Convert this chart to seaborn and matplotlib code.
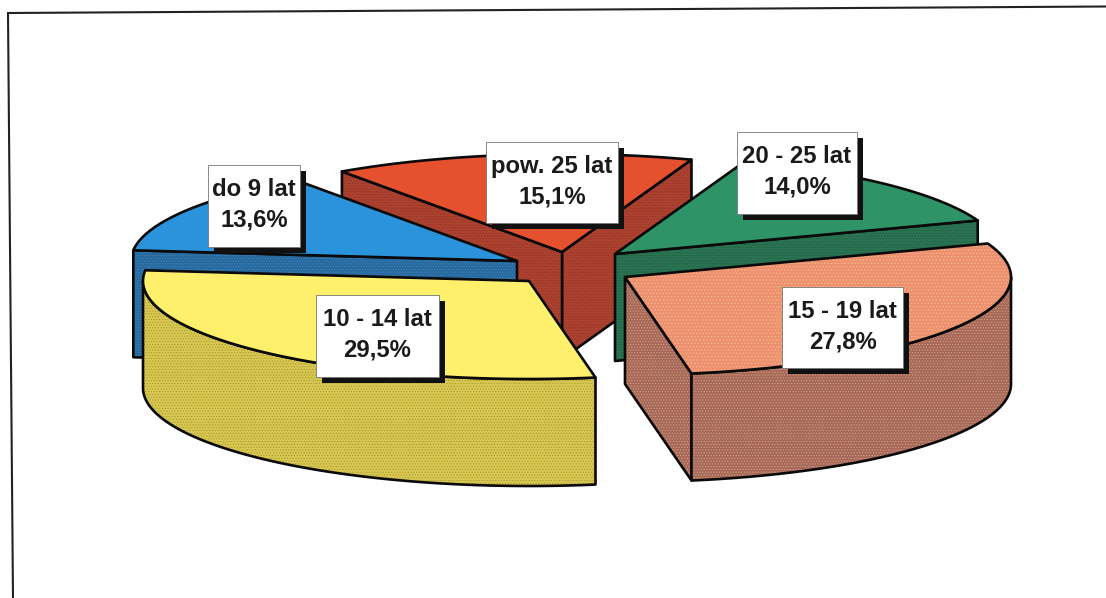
import numpy as np
import matplotlib
matplotlib.use("Agg")
import matplotlib.pyplot as plt
from matplotlib.patches import Polygon, Rectangle
import seaborn as sns

# slices in drawing order round the pie, anticlockwise from the right
categories = ["20 - 25 lat", "pow. 25 lat", "do 9 lat", "10 - 14 lat", "15 - 19 lat"]
shares = [14.0, 15.1, 13.6, 29.5, 27.8]

top_colors = ["#2E9468", "#E5512F", "#2B93DC", "#FFF06C", "#EE8F70"]
side_colors = ["#2A7453", "#AE4230", "#27699E", "#D8C751", "#A9675B"]
speckle_colors = ["#1F5C40", "#8E3325", "#3F85BC", "#A89A30", "#C9A878"]

# layout, in pixels of the picture
centers_x = [615, 562, 517, 529, 625]
centers_y = [254, 252, 261, 281, 277]
box_left = [737, 486, 208, 316, 782]
box_top = [132, 142, 165, 295, 287]
box_right = [857, 618, 300, 439, 903]
box_bottom = [214, 223, 247, 377, 368]

START_ANGLE = 20
RX, RY = 386, 98
DEPTH = 107
LW = 1.9

sns.set_theme(style="white")
plt.rcParams["font.family"] = ["Liberation Sans", "DejaVu Sans"]
plt.rcParams["hatch.linewidth"] = 0.5

fig = plt.figure(figsize=(11.06, 5.98), dpi=100, facecolor="white")
ax = fig.add_axes([0, 0, 1, 1])
ax.set_xlim(0, 1106)
ax.set_ylim(598, 0)
ax.axis("off")


def arc(cx, cy, a0, a1):
    t = np.radians(np.linspace(a0, a1, 120))
    return np.column_stack([cx + RX * np.cos(t), cy - RY * np.sin(t)])


def face(pts, fill, speck, hatch="......"):
    ax.add_patch(Polygon(pts, closed=True, facecolor=fill, edgecolor=speck,
                         hatch=hatch, lw=0))
    ax.add_patch(Polygon(pts, closed=True, fill=False, edgecolor="#0A0A0A",
                         lw=LW, joinstyle="round"))


# angles come straight from the shares
sweeps = np.array(shares) / sum(shares) * 360
starts = START_ANGLE + np.concatenate([[0], np.cumsum(sweeps)[:-1]])

# back slices first
for i in np.argsort(centers_y):
    cx, cy = centers_x[i], centers_y[i]
    a0, a1 = starts[i], starts[i] + sweeps[i]
    apex = np.array([cx, cy])
    drop = np.array([0, DEPTH])

    # cut faces that look towards the viewer
    for ang, seen in ((a0, np.cos(np.radians(a0)) > 0), (a1, np.cos(np.radians(a1)) < 0)):
        if seen:
            end = arc(cx, cy, ang, ang + 1)[0]
            face([apex, end, end + drop, apex + drop], side_colors[i], speckle_colors[i])

    # outer rim, only the part under the middle of the ellipse
    low0, low1 = max(a0, 180), min(a1, 360)
    if low0 < low1:
        rim = arc(cx, cy, low0, low1)
        face(np.vstack([rim, rim[::-1] + drop]), side_colors[i], speckle_colors[i])

    # top
    top = np.vstack([apex, arc(cx, cy, a0, a1)])
    hatch = "....." if categories[i] == "15 - 19 lat" else None
    face(top, top_colors[i], "#F2C08A" if hatch else top_colors[i], hatch)

# labels with hard shadow
for i, cat in enumerate(categories):
    l, t, r, b = box_left[i], box_top[i], box_right[i], box_bottom[i]
    ax.add_patch(Rectangle((l + 6, t + 6), r - l, b - t, facecolor="#111111", edgecolor="none"))
    ax.add_patch(Rectangle((l, t), r - l, b - t, facecolor="white", edgecolor="#777777", lw=0.6))
    value = f"{shares[i]:.1f}".replace(".", ",")
    ax.text((l + r) / 2, (t + b) / 2 - 1, f"{cat}\n{value}%", ha="center", va="center",
            fontsize=17.2, fontweight="bold", color="#1A1A1A", linespacing=1.42)

# the scan is a little rotated, so the frame leans
ax.plot([13, 8, 1106], [598, 13, 6.5], color="#222222", lw=1.5, solid_joinstyle="miter")

fig.savefig("out.png", dpi=100, facecolor="white")
